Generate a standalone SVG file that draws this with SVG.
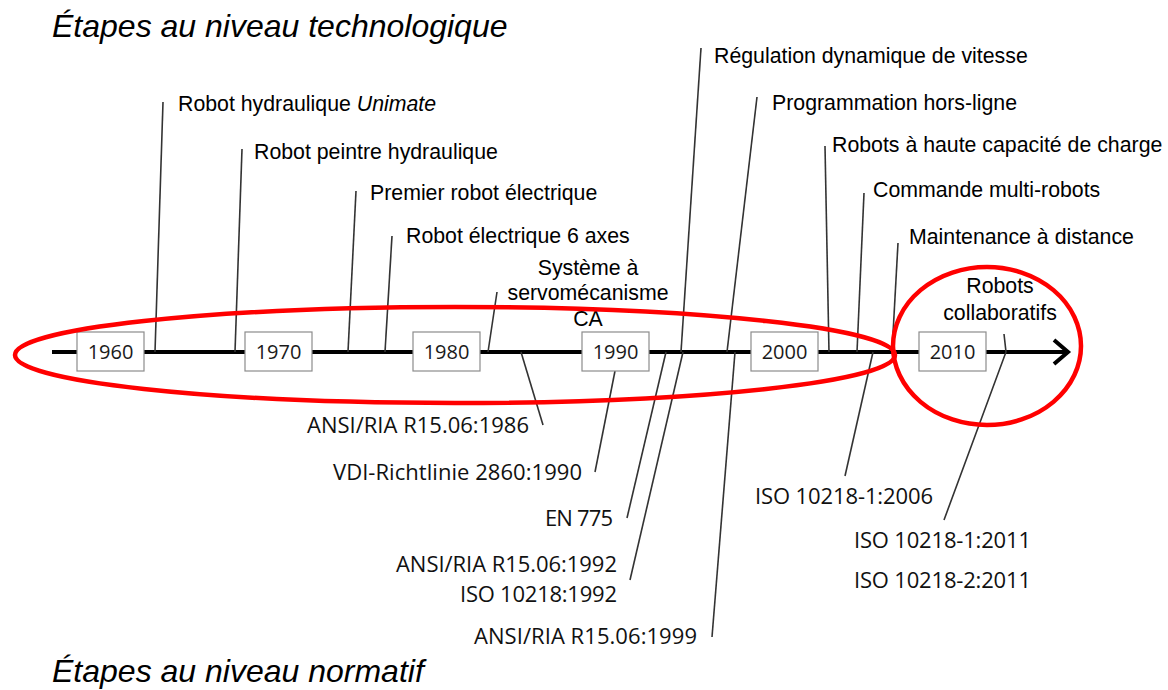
<svg xmlns="http://www.w3.org/2000/svg" width="1168" height="690" viewBox="0 0 1168 690">
<style>
.title{font-family:"Liberation Sans",Arial,sans-serif;font-size:32px;font-style:italic;fill:#000}
.tl{font-family:"Liberation Sans",Arial,sans-serif;font-size:21.3px;fill:#000}
.bl{font-family:"Open Sans","Noto Sans",sans-serif;font-size:22px;fill:#111}
.yr{font-family:"Open Sans","Noto Sans",sans-serif;font-size:20px;fill:#1a1a1a;text-anchor:middle}
.box{fill:#fff;stroke:#8c8c8c;stroke-width:1.2}
.ln{stroke:#333;stroke-width:1.6;fill:none}
.red{fill:none;stroke:#f00;stroke-width:4.5}
</style>
<rect width="1168" height="690" fill="#fff"/>
<text class="title" x="52" y="37">Étapes au niveau technologique</text>
<text class="title" x="52" y="682">Étapes au niveau normatif</text>

<g id="axis">
<line x1="52" y1="352" x2="1066" y2="352" stroke="#000" stroke-width="4"/>
<polyline points="1054,340 1068,352 1054,364" fill="none" stroke="#000" stroke-width="4"/>
</g>

<g id="connectors">
<line class="ln" x1="155" y1="352" x2="163" y2="102"/>
<line class="ln" x1="235" y1="352" x2="242" y2="149"/>
<line class="ln" x1="348" y1="352" x2="356" y2="191"/>
<line class="ln" x1="385" y1="352" x2="392" y2="236"/>
<line class="ln" x1="488" y1="352" x2="497" y2="292"/>
<line class="ln" x1="681" y1="352" x2="701" y2="48"/>
<line class="ln" x1="727" y1="352" x2="757" y2="97"/>
<line class="ln" x1="829" y1="352" x2="825" y2="146"/>
<line class="ln" x1="857" y1="352" x2="864" y2="193"/>
<line class="ln" x1="892" y1="352" x2="898" y2="243"/>
<polyline class="ln" points="1004,334 1006,352 944,520"/>
<line class="ln" x1="521" y1="352" x2="543" y2="425"/>
<line class="ln" x1="615" y1="371" x2="595" y2="472"/>
<line class="ln" x1="666" y1="352" x2="627" y2="518"/>
<line class="ln" x1="683" y1="352" x2="630" y2="580"/>
<line class="ln" x1="735" y1="352" x2="712" y2="637"/>
<line class="ln" x1="873" y1="352" x2="845" y2="476"/>
</g>

<g id="y1960"><rect class="box" x="77" y="332" width="67" height="39"/><text class="yr" x="110.5" y="359">1960</text></g>
<g id="y1970"><rect class="box" x="245" y="332" width="67" height="39"/><text class="yr" x="278.5" y="359">1970</text></g>
<g id="y1980"><rect class="box" x="413" y="332" width="67" height="39"/><text class="yr" x="446.5" y="359">1980</text></g>
<g id="y1990"><rect class="box" x="582" y="332" width="67" height="39"/><text class="yr" x="615.5" y="359">1990</text></g>
<g id="y2000"><rect class="box" x="751" y="332" width="67" height="39"/><text class="yr" x="784.5" y="359">2000</text></g>
<g id="y2010"><rect class="box" x="919" y="332" width="67" height="39"/><text class="yr" x="952.5" y="359">2010</text></g>

<g id="tech-labels">
<text class="tl" x="178" y="111">Robot hydraulique <tspan font-style="italic">Unimate</tspan></text>
<text class="tl" x="254" y="159">Robot peintre hydraulique</text>
<text class="tl" x="370" y="200">Premier robot électrique</text>
<text class="tl" x="406" y="243">Robot électrique 6 axes</text>
<text class="tl" text-anchor="middle" x="588" y="275">Système à</text>
<text class="tl" text-anchor="middle" x="588" y="300">servomécanisme</text>
<text class="tl" text-anchor="middle" x="588" y="326">CA</text>
<text class="tl" x="714" y="63">Régulation dynamique de vitesse</text>
<text class="tl" x="772" y="110">Programmation hors-ligne</text>
<text class="tl" x="832" y="152">Robots à haute capacité de charge</text>
<text class="tl" x="873" y="197">Commande multi-robots</text>
<text class="tl" x="909" y="244">Maintenance à distance</text>
<text class="tl" text-anchor="middle" x="1000" y="293">Robots</text>
<text class="tl" text-anchor="middle" x="1000" y="320">collaboratifs</text>
</g>

<g id="norm-labels">
<text class="bl" x="307" y="433" textLength="222">ANSI/RIA R15.06:1986</text>
<text class="bl" x="333" y="480" textLength="249">VDI-Richtlinie 2860:1990</text>
<text class="bl" x="545" y="526" textLength="68">EN 775</text>
<text class="bl" x="396" y="572" textLength="221">ANSI/RIA R15.06:1992</text>
<text class="bl" x="460" y="602" textLength="157">ISO 10218:1992</text>
<text class="bl" x="474" y="644" textLength="223">ANSI/RIA R15.06:1999</text>
<text class="bl" x="755" y="504" textLength="178">ISO 10218-1:2006</text>
<text class="bl" x="854" y="548" textLength="177">ISO 10218-1:2011</text>
<text class="bl" x="854" y="588" textLength="177">ISO 10218-2:2011</text>
</g>

<g id="highlights">
<ellipse class="red" cx="455" cy="355" rx="440" ry="48"/>
<ellipse class="red" cx="987" cy="346" rx="94" ry="79"/>
</g>
</svg>
